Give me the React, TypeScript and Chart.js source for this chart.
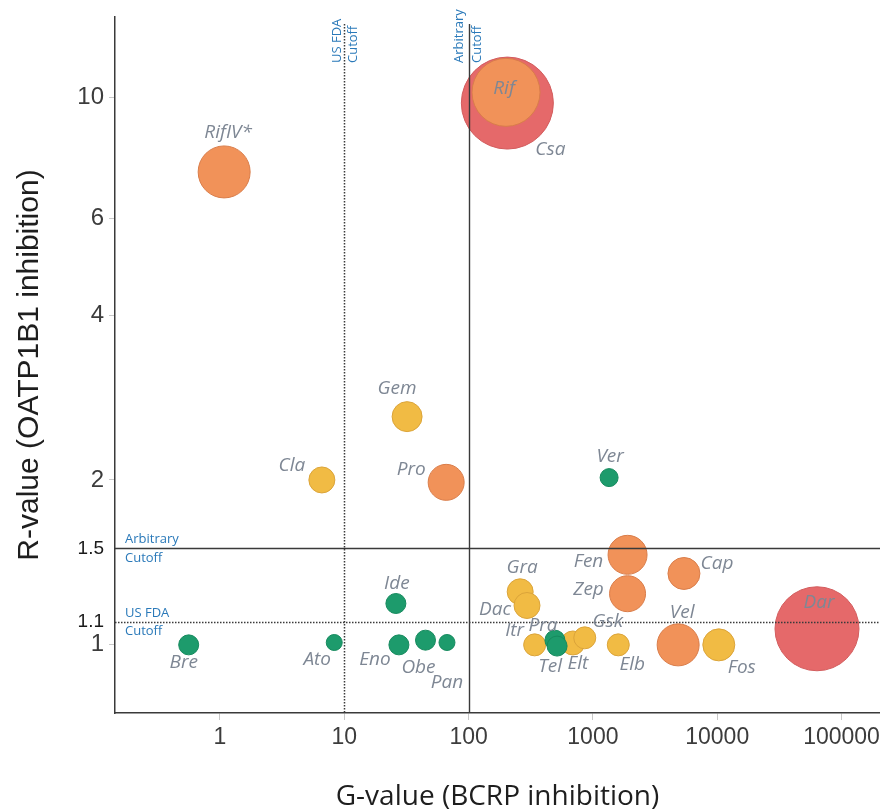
import React, { useEffect, useRef } from 'react';
import { Chart, registerables } from 'chart.js';

Chart.register(...registerables);

// ---- data ----
const drugNames = ['Rif', 'Csa', 'RifIV*', 'Gem', 'Cla', 'Pro', 'Ver', 'Fen', 'Zep', 'Cap', 'Dar', 'Vel', 'Fos', 'Elb', 'Gra', 'Dac', 'Itr', 'Pra', 'Tel', 'Elt', 'Gsk', 'Ide', 'Ato', 'Eno', 'Obe', 'Pan', 'Bre'];
const gValues = [200, 205, 1.08, 32, 6.6, 66, 1350, 1900, 1900, 5400, 63500, 4850, 10300, 1600, 260, 295, 340, 495, 515, 690, 860, 26, 8.3, 27.5, 45, 67, 0.56];
const rValues = [10.2, 9.75, 7.3, 2.61, 2.0, 1.98, 2.02, 1.46, 1.24, 1.35, 1.07, 1.0, 1.0, 1.0, 1.25, 1.18, 1.0, 1.02, 0.995, 1.008, 1.03, 1.19, 1.01, 1.0, 1.02, 1.01, 1.0];
const bubbleRadii = [34, 46, 26, 15, 13, 18, 9, 19.5, 18, 16, 42, 21, 16, 11, 13, 13, 11, 10, 10, 12, 11, 10, 8, 10, 10, 8, 10];
const drugGroups = ['orange', 'red', 'orange', 'yellow', 'yellow', 'orange', 'green', 'orange', 'orange', 'orange', 'red', 'orange', 'yellow', 'yellow', 'yellow', 'yellow', 'yellow', 'green', 'green', 'yellow', 'yellow', 'green', 'green', 'green', 'green', 'green', 'green'];

const xTickValues = [1, 10, 100, 1000, 10000, 100000];
const yTickValues = [1, 1.1, 1.5, 2, 4, 6, 10];
const fdaCutoffG = 10;
const arbitraryCutoffG = 100;
const fdaCutoffR = 1.1;
const arbitraryCutoffR = 1.5;

// ---- styles / layout ----
const GROUP_ORDER = ['green', 'orange', 'yellow', 'red']; // first drawn on top
const GROUP_FILL: Record<string, string> = {
  green: '#1d9b6c',
  yellow: '#f1bb44',
  orange: '#f19259',
  red: '#e5696a',
};
const GROUP_BORDER: Record<string, string> = {
  green: '#168a5e',
  yellow: '#dba43a',
  orange: '#d97d4a',
  red: '#d25c5d',
};
const LABEL_OFFSETS: Record<string, [number, number]> = {
  Rif: [-2, -4], Csa: [43, 47], 'RifIV*': [4, -39], Gem: [-10, -28], Cla: [-30, -14],
  Pro: [-35, -13], Ver: [1, -21], Fen: [-39, 7], Zep: [-39, -4], Cap: [33, -10],
  Dar: [2, -26], Vel: [4, -32], Fos: [23, 23], Elb: [14, 20], Gra: [2, -24],
  Dac: [-32, 4], Itr: [-20, -14], Pra: [-12, -15], Tel: [-7, 21], Elt: [5, 21],
  Gsk: [23, -16], Ide: [1, -20], Ato: [-17, 17], Eno: [-24, 15], Obe: [-7, 27],
  Pan: [0, 40], Bre: [-5, 18],
};
const TICK_FONT = "'Liberation Sans', Arial, sans-serif";
const BLUE = '#2a79b9';

const zeroPadding = (s: any) => {
  s.paddingTop = 0;
  s.paddingBottom = 0;
  s.paddingLeft = 0;
  s.paddingRight = 0;
};

const cutoffPlugin = {
  id: 'cutoffs',
  afterDatasetsDraw(chart: any) {
    const { ctx, chartArea, scales } = chart;
    const x = scales.x;
    const y = scales.y;
    const lineTop = chartArea.top + 7;
    ctx.save();
    const xf = Math.round(x.getPixelForValue(fdaCutoffG)) + 0.5;
    const xa = Math.round(x.getPixelForValue(arbitraryCutoffG)) + 0.5;
    ctx.strokeStyle = '#3a3a3a';
    ctx.lineWidth = 1.5;
    ctx.setLineDash([1.5, 1.5]);
    ctx.beginPath();
    ctx.moveTo(xf, lineTop);
    ctx.lineTo(xf, chartArea.bottom);
    ctx.stroke();
    ctx.setLineDash([]);
    ctx.lineWidth = 1.4;
    ctx.beginPath();
    ctx.moveTo(xa, lineTop);
    ctx.lineTo(xa, chartArea.bottom);
    ctx.stroke();
    const yf = Math.round(y.getPixelForValue(fdaCutoffR)) + 0.5;
    const ya = Math.round(y.getPixelForValue(arbitraryCutoffR)) + 0.5;
    ctx.setLineDash([1.5, 1.5]);
    ctx.lineWidth = 1.5;
    ctx.beginPath();
    ctx.moveTo(chartArea.left, yf);
    ctx.lineTo(chartArea.right, yf);
    ctx.stroke();
    ctx.setLineDash([]);
    ctx.lineWidth = 1.4;
    ctx.beginPath();
    ctx.moveTo(chartArea.left, ya);
    ctx.lineTo(chartArea.right, ya);
    ctx.stroke();

    ctx.fillStyle = BLUE;
    ctx.font = "13px 'Open Sans', sans-serif";
    ctx.textBaseline = 'middle';
    ctx.textAlign = 'left';
    const hx = chartArea.left + 10;
    ctx.fillText('Arbitrary', hx, ya - 9);
    ctx.fillText('Cutoff', hx, ya + 10);
    ctx.fillText('US FDA', hx, yf - 9);
    ctx.fillText('Cutoff', hx, yf + 9);

    const vertLabel = (px: number, l1: string, l2: string, off1: number, off2: number) => {
      ctx.save();
      ctx.translate(px, chartArea.top + 46);
      ctx.rotate(-Math.PI / 2);
      ctx.textAlign = 'left';
      ctx.fillText(l1, 0, off1);
      ctx.fillText(l2, 0, off2);
      ctx.restore();
    };
    vertLabel(xf, 'US FDA', 'Cutoff', -7, 9);
    vertLabel(xa, 'Arbitrary', 'Cutoff', -10, 8);
    ctx.restore();
  },
};

const labelPlugin = {
  id: 'bubbleLabels',
  afterDatasetsDraw(chart: any) {
    const { ctx } = chart;
    ctx.save();
    ctx.font = "italic 19px 'Open Sans', sans-serif";
    ctx.fillStyle = '#7e8794';
    ctx.textAlign = 'center';
    ctx.textBaseline = 'middle';
    chart.data.datasets.forEach((ds: any, i: number) => {
      const meta = chart.getDatasetMeta(i);
      meta.data.forEach((el: any, j: number) => {
        const name = ds.names[j];
        const [dx, dy] = LABEL_OFFSETS[name] || [0, 0];
        ctx.fillText(name, el.x + dx, el.y + dy);
      });
    });
    ctx.restore();
  },
};

export default function App() {
  const canvasRef = useRef<HTMLCanvasElement | null>(null);

  useEffect(() => {
    if (!canvasRef.current) return;
    const datasets = GROUP_ORDER.map((g) => {
      const idx = drugNames.map((_, i) => i).filter((i) => drugGroups[i] === g);
      return {
        label: g,
        names: idx.map((i) => drugNames[i]),
        data: idx.map((i) => ({ x: gValues[i], y: rValues[i], r: bubbleRadii[i] })),
        backgroundColor: GROUP_FILL[g],
        borderColor: GROUP_BORDER[g],
        borderWidth: 1,
      };
    });

    const chart = new Chart(canvasRef.current, {
      type: 'bubble',
      data: { datasets: datasets as any },
      options: {
        animation: false,
        responsive: false,
        devicePixelRatio: 1,
        layout: { autoPadding: false, padding: { top: 17, left: 0, right: 0, bottom: 0 } },
        plugins: {
          legend: { display: false },
          tooltip: { enabled: false },
        },
        scales: {
          x: {
            type: 'logarithmic',
            position: 'bottom',
            min: 0.143,
            max: 204000,
            afterBuildTicks: (s: any) => {
              s.ticks = xTickValues.map((v) => ({ value: v }));
            },
            afterFit: (s: any) => {
              s.height = 98;
              zeroPadding(s);
            },
            ticks: {
              autoSkip: false,
              maxRotation: 0,
              padding: 4,
              color: '#3c3c3c',
              font: { family: TICK_FONT, size: 23 },
              callback: (v: any) => String(v),
            },
            grid: { drawOnChartArea: false, drawTicks: true, tickLength: 7, color: '#c8c8c8' },
            border: { color: '#3a3a3a', width: 1.5 },
            title: {
              display: true,
              text: 'G-value (BCRP inhibition)',
              color: '#1e1e1e',
              font: { family: "'Open Sans', sans-serif", size: 28, lineHeight: 1 },
              padding: 0,
            },
          },
          y: {
            type: 'logarithmic',
            position: 'left',
            min: 0.751,
            max: 14.0,
            afterBuildTicks: (s: any) => {
              s.ticks = yTickValues.map((v) => ({ value: v }));
            },
            afterFit: (s: any) => {
              s.width = 115;
              zeroPadding(s);
            },
            ticks: {
              autoSkip: false,
              padding: 5,
              color: (c: any) => (c.tick && (c.tick.value === 1.1 || c.tick.value === 1.5) ? '#1a1a1a' : '#3c3c3c'),
              font: (c: any) =>
                c.tick && (c.tick.value === 1.1 || c.tick.value === 1.5)
                  ? { family: TICK_FONT, size: 19 }
                  : { family: TICK_FONT, size: 24 },
              callback: (v: any) => String(v),
            },
            grid: {
              drawOnChartArea: false,
              drawTicks: true,
              tickLength: 6,
              color: (c: any) => (c.tick && (c.tick.value === 1.1 || c.tick.value === 1.5) ? 'rgba(0,0,0,0)' : '#c8c8c8'),
            },
            border: { color: '#3a3a3a', width: 1.5 },
            title: {
              display: true,
              text: 'R-value (OATP1B1 inhibition)',
              color: '#1e1e1e',
              font: { family: TICK_FONT, size: 30, lineHeight: 1.2 },
              padding: { top: 12, bottom: 0 },
            },
          },
        },
      } as any,
      plugins: [cutoffPlugin, labelPlugin],
    });
    return () => chart.destroy();
  }, []);

  return (
    <div style={{ position: 'fixed', left: 0, top: 0, width: 880, height: 811, background: '#fff' }}>
      <canvas ref={canvasRef} width={880} height={811} style={{ display: 'block' }} />
    </div>
  );
}
